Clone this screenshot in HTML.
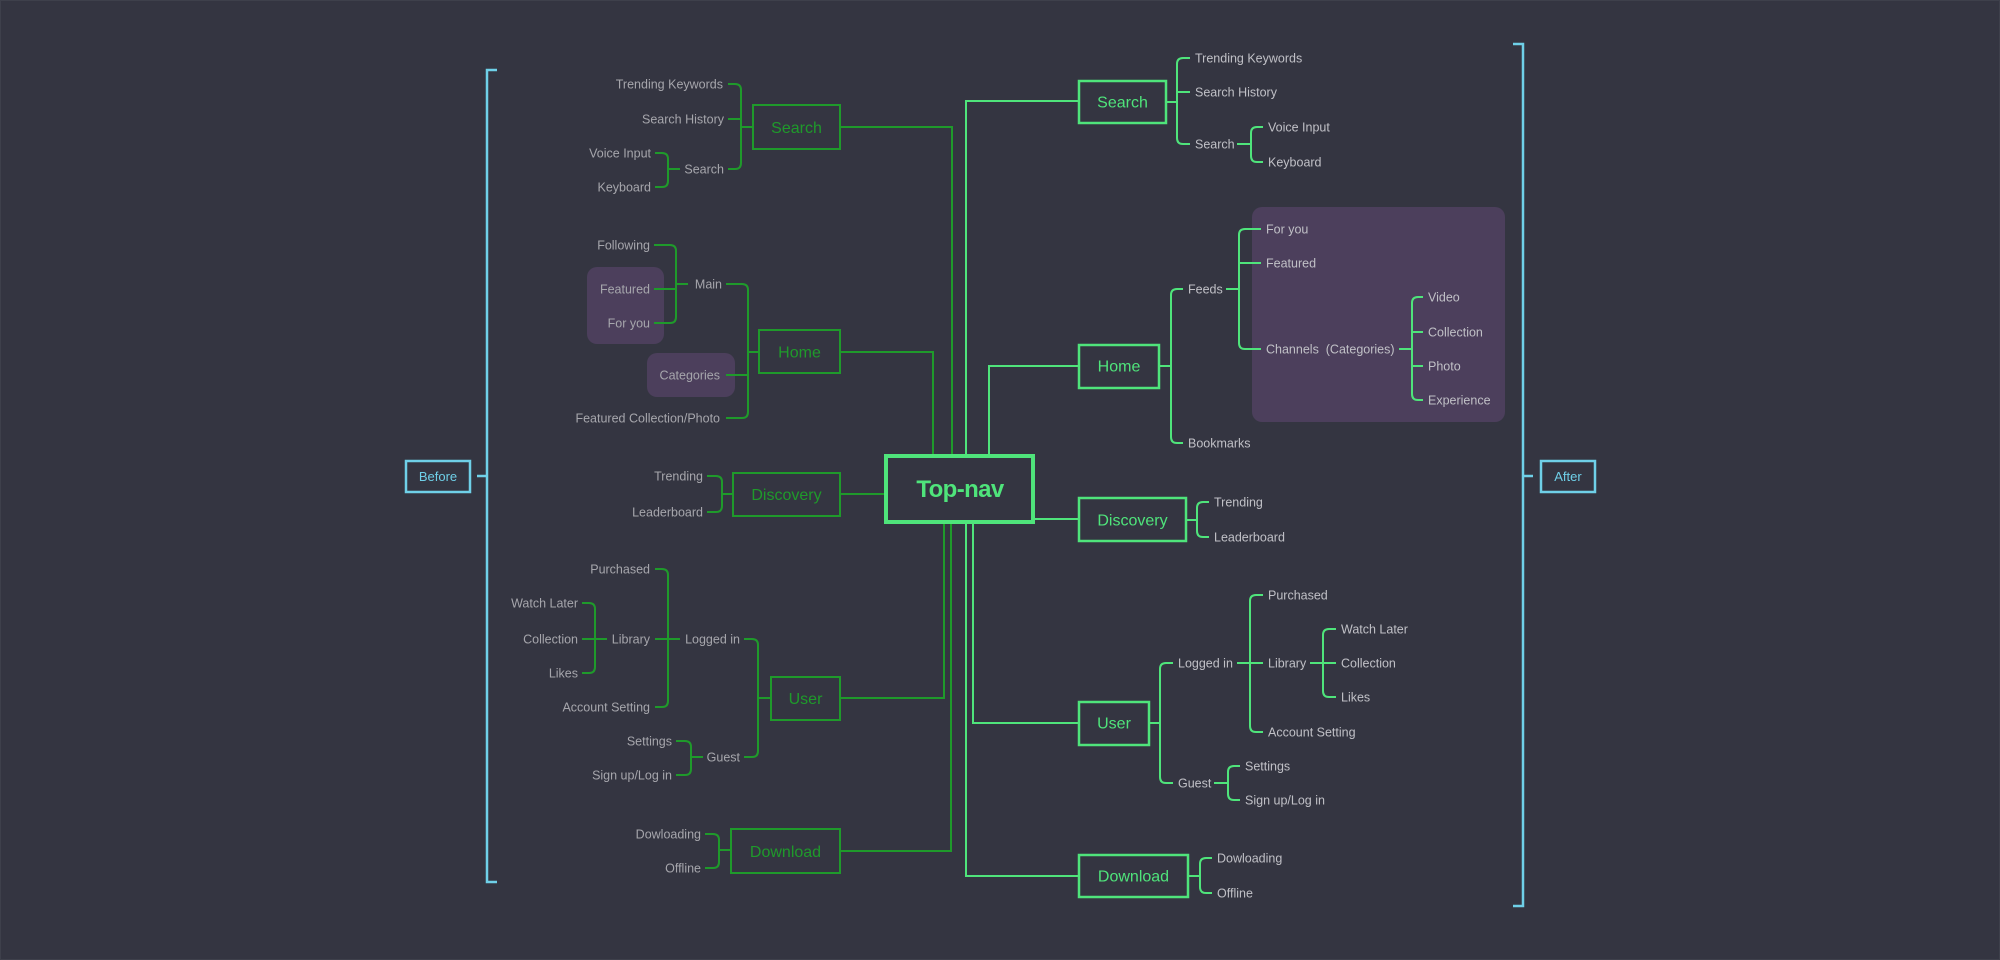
<!DOCTYPE html>
<html>
<head>
<meta charset="utf-8">
<style>
  html, body { margin: 0; padding: 0; background: #343541; }
  body { width: 2000px; height: 960px; overflow: hidden; }
  svg { display: block; }
  .dim { fill: none; stroke: #1f9a2b; stroke-width: 2; }
  .brt { fill: none; stroke: #4fe47b; stroke-width: 2; }
  .cy { fill: none; stroke: #6fd0e8; stroke-width: 2.5; }
  .lt { font-family: "Liberation Sans", sans-serif; font-size: 12.5px; fill: #a6a6ac; }
  .rt { font-family: "Liberation Sans", sans-serif; font-size: 12.5px; fill: #c0c0c6; }
  .lb { font-family: "Liberation Sans", sans-serif; font-size: 16px; fill: #1f9a2b; text-anchor: middle; }
  .rb { font-family: "Liberation Sans", sans-serif; font-size: 16px; fill: #4fe47b; text-anchor: middle; }
  .ct { font-family: "Liberation Sans", sans-serif; font-size: 13px; fill: #6fd0e8; text-anchor: middle; }
</style>
</head>
<body>
<svg width="2000" height="960" viewBox="0 0 2000 960" xmlns="http://www.w3.org/2000/svg">
  <rect x="0" y="0" width="2000" height="960" fill="#343541"/>
  <rect x="0.5" y="0.5" width="1999" height="959" fill="none" stroke="#3e404b" stroke-width="1"/>

  <!-- purple highlight boxes -->
  <rect x="587" y="267" width="77" height="77" rx="10" fill="#4c3f5c"/>
  <rect x="647" y="353" width="88" height="44" rx="10" fill="#4c3f5c"/>
  <rect x="1252" y="207" width="253" height="215" rx="10" fill="#4c3f5c"/>

  <!-- Before / After brackets -->
  <path class="cy" d="M497 70 H487 V882 H497"/>
  <path class="cy" d="M477 476 H487"/>
  <rect class="cy" x="406" y="461" width="64" height="31"/>
  <text class="ct" x="438" y="481">Before</text>

  <path class="cy" d="M1513 44 H1523 V906 H1513"/>
  <path class="cy" d="M1523 476 H1533"/>
  <rect class="cy" x="1541" y="461" width="54" height="31"/>
  <text class="ct" x="1568" y="481">After</text>

  <!-- LEFT (dim) connectors -->
  <g class="dim">
    <!-- Search -->
    <path d="M728 84 H735 Q741 84 741 90 V163 Q741 169 735 169 H728"/>
    <path d="M728 119 H741"/>
    <path d="M741 127 H753"/>
    <path d="M655 153 H662 Q668 153 668 159 V181 Q668 187 662 187 H655"/>
    <path d="M668 169 H680"/>
    <!-- Home -->
    <path d="M726 284 H742 Q748 284 748 290 V412 Q748 418 742 418 H726"/>
    <path d="M726 375 H748"/>
    <path d="M748 352 H759"/>
    <path d="M654 245 H670 Q676 245 676 251 V317 Q676 323 670 323 H654"/>
    <path d="M654 289 H676"/>
    <path d="M676 284 H688"/>
    <!-- Discovery -->
    <path d="M707 476 H716 Q722 476 722 482 V506 Q722 512 716 512 H707"/>
    <path d="M722 494 H733"/>
    <!-- User -->
    <path d="M744 639 H752 Q758 639 758 645 V751 Q758 757 752 757 H744"/>
    <path d="M758 698 H771"/>
    <path d="M655 569 H662 Q668 569 668 575 V701 Q668 707 662 707 H655"/>
    <path d="M655 639 H680"/>
    <path d="M582 603 H589 Q595 603 595 609 V667 Q595 673 589 673 H582"/>
    <path d="M582 639 H607"/>
    <path d="M676 741 H685 Q691 741 691 747 V769 Q691 775 685 775 H676"/>
    <path d="M691 757 H703"/>
    <!-- Download -->
    <path d="M705 834 H713 Q719 834 719 840 V862 Q719 868 713 868 H705"/>
    <path d="M719 850 H731"/>
    <!-- to Top-nav -->
    <path d="M840 127 H952 V456"/>
    <path d="M840 352 H933 V456"/>
    <path d="M840 494 H886"/>
    <path d="M840 698 H944 V522"/>
    <path d="M840 851 H951 V522"/>
    <!-- boxes -->
    <rect x="753" y="105" width="87" height="44"/>
    <rect x="759" y="330" width="81" height="43"/>
    <rect x="733" y="473" width="107" height="43"/>
    <rect x="771" y="677" width="69" height="43"/>
    <rect x="731" y="829" width="109" height="44"/>
  </g>

  <!-- RIGHT (bright) connectors -->
  <g class="brt">
    <!-- Search -->
    <path d="M1190 58 H1183 Q1177 58 1177 64 V138 Q1177 144 1183 144 H1190"/>
    <path d="M1177 92 H1190"/>
    <path d="M1166 102 H1177"/>
    <path d="M1263 127 H1257 Q1251 127 1251 133 V156 Q1251 162 1257 162 H1263"/>
    <path d="M1237 144 H1251"/>
    <!-- Home -->
    <path d="M1183 289 H1177 Q1171 289 1171 295 V437 Q1171 443 1177 443 H1183"/>
    <path d="M1159 366 H1171"/>
    <path d="M1261 229 H1245 Q1239 229 1239 235 V343 Q1239 349 1245 349 H1261"/>
    <path d="M1239 263 H1261"/>
    <path d="M1226 289 H1239"/>
    <path d="M1423 297 H1418 Q1412 297 1412 303 V394 Q1412 400 1418 400 H1423"/>
    <path d="M1412 332 H1423"/>
    <path d="M1412 366 H1423"/>
    <path d="M1399 349 H1412"/>
    <!-- Discovery -->
    <path d="M1209 502 H1203 Q1197 502 1197 508 V531 Q1197 537 1203 537 H1209"/>
    <path d="M1186 520 H1197"/>
    <!-- User -->
    <path d="M1173 663 H1166 Q1160 663 1160 669 V777 Q1160 783 1166 783 H1173"/>
    <path d="M1149 723 H1160"/>
    <path d="M1263 595 H1256 Q1250 595 1250 601 V726 Q1250 732 1256 732 H1263"/>
    <path d="M1237 663 H1263"/>
    <path d="M1336 629 H1329 Q1323 629 1323 635 V691 Q1323 697 1329 697 H1336"/>
    <path d="M1310 663 H1336"/>
    <path d="M1240 766 H1234 Q1228 766 1228 772 V794 Q1228 800 1234 800 H1240"/>
    <path d="M1214 783 H1228"/>
    <!-- Download -->
    <path d="M1212 858 H1206 Q1200 858 1200 864 V887 Q1200 893 1206 893 H1212"/>
    <path d="M1188 876 H1200"/>
    <!-- from Top-nav -->
    <path d="M966 456 V101 H1079"/>
    <path d="M989 456 V366 H1079"/>
    <path d="M1035 519 H1079"/>
    <path d="M973 522 V723 H1079"/>
    <path d="M966 522 V876 H1079"/>
  </g>
  <g class="brt" style="stroke-width:2.5">
    <rect x="1079" y="81" width="87" height="42"/>
    <rect x="1079" y="345" width="80" height="43"/>
    <rect x="1079" y="498" width="107" height="43"/>
    <rect x="1079" y="702" width="70" height="43"/>
    <rect x="1079" y="855" width="109" height="42"/>
  </g>

  <!-- Top-nav -->
  <rect x="886" y="456" width="147" height="66" fill="#343541" stroke="#4fe47b" stroke-width="4"/>
  <text x="960" y="497" text-anchor="middle" style="font-family:'Liberation Sans',sans-serif;font-size:24px;font-weight:bold;letter-spacing:-0.6px;fill:#4fe47b">Top-nav</text>

  <!-- Left box labels -->
  <text class="lb" x="796.5" y="133">Search</text>
  <text class="lb" x="799.5" y="357.5">Home</text>
  <text class="lb" x="786.5" y="500">Discovery</text>
  <text class="lb" x="805.5" y="704">User</text>
  <text class="lb" x="785.5" y="857">Download</text>

  <!-- Right box labels -->
  <text class="rb" x="1122.5" y="107.5">Search</text>
  <text class="rb" x="1119" y="371.5">Home</text>
  <text class="rb" x="1132.5" y="525.5">Discovery</text>
  <text class="rb" x="1114" y="728.5">User</text>
  <text class="rb" x="1133.5" y="881.5">Download</text>

  <!-- Left leaf labels -->
  <g class="lt" text-anchor="end">
    <text x="723" y="88.5">Trending Keywords</text>
    <text x="724" y="123.5">Search History</text>
    <text x="724" y="173.5">Search</text>
    <text x="651" y="157.5">Voice Input</text>
    <text x="651" y="191.5">Keyboard</text>
    <text x="650" y="249.5">Following</text>
    <text x="650" y="293.5">Featured</text>
    <text x="650" y="327.5">For you</text>
    <text x="722" y="288.5">Main</text>
    <text x="720" y="379.5">Categories</text>
    <text x="720" y="422.5">Featured Collection/Photo</text>
    <text x="703" y="480.5">Trending</text>
    <text x="703" y="516.5">Leaderboard</text>
    <text x="650" y="573.5">Purchased</text>
    <text x="578" y="607.5">Watch Later</text>
    <text x="578" y="643.5">Collection</text>
    <text x="578" y="677.5">Likes</text>
    <text x="650" y="643.5">Library</text>
    <text x="650" y="711.5">Account Setting</text>
    <text x="740" y="643.5">Logged in</text>
    <text x="672" y="745.5">Settings</text>
    <text x="672" y="779.5">Sign up/Log in</text>
    <text x="740" y="761.5">Guest</text>
    <text x="701" y="838.5">Dowloading</text>
    <text x="701" y="872.5">Offline</text>
  </g>

  <!-- Right leaf labels -->
  <g class="rt">
    <text x="1195" y="62.5">Trending Keywords</text>
    <text x="1195" y="96.5">Search History</text>
    <text x="1195" y="148.5">Search</text>
    <text x="1268" y="131.5">Voice Input</text>
    <text x="1268" y="166.5">Keyboard</text>
    <text x="1188" y="293.5">Feeds</text>
    <text x="1188" y="447.5">Bookmarks</text>
    <text x="1266" y="233.5">For you</text>
    <text x="1266" y="267.5">Featured</text>
    <text x="1266" y="353.5" xml:space="preserve">Channels  (Categories)</text>
    <text x="1428" y="301.5">Video</text>
    <text x="1428" y="336.5">Collection</text>
    <text x="1428" y="370.5">Photo</text>
    <text x="1428" y="404.5">Experience</text>
    <text x="1214" y="506.5">Trending</text>
    <text x="1214" y="541.5">Leaderboard</text>
    <text x="1178" y="667.5">Logged in</text>
    <text x="1178" y="787.5">Guest</text>
    <text x="1268" y="599.5">Purchased</text>
    <text x="1268" y="667.5">Library</text>
    <text x="1268" y="736.5">Account Setting</text>
    <text x="1341" y="633.5">Watch Later</text>
    <text x="1341" y="667.5">Collection</text>
    <text x="1341" y="701.5">Likes</text>
    <text x="1245" y="770.5">Settings</text>
    <text x="1245" y="804.5">Sign up/Log in</text>
    <text x="1217" y="862.5">Dowloading</text>
    <text x="1217" y="897.5">Offline</text>
  </g>
</svg>
</body>
</html>
